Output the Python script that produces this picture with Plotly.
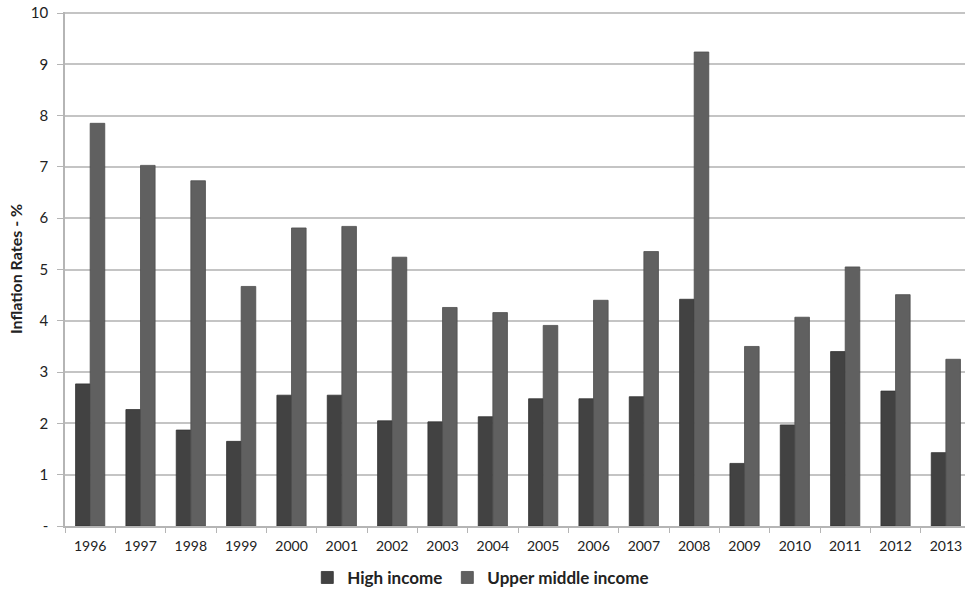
import plotly.graph_objects as go

years = ["1996", "1997", "1998", "1999", "2000", "2001", "2002", "2003", "2004",
         "2005", "2006", "2007", "2008", "2009", "2010", "2011", "2012", "2013"]
high_income = [2.77, 2.27, 1.87, 1.65, 2.55, 2.55, 2.05, 2.03, 2.13,
               2.48, 2.48, 2.52, 4.42, 1.22, 1.97, 3.40, 2.63, 1.43]
upper_middle_income = [7.85, 7.03, 6.73, 4.67, 5.81, 5.84, 5.24, 4.26, 4.16,
                       3.91, 4.40, 5.35, 9.24, 3.50, 4.07, 5.05, 4.51, 3.25]
y_tickvals = [0, 1, 2, 3, 4, 5, 6, 7, 8, 9, 10]
y_ticktext = ["-", "1", "2", "3", "4", "5", "6", "7", "8", "9", "10"]

font_family = "Lato, Open Sans, sans-serif"

fig = go.Figure()
fig.add_trace(go.Bar(x=years, y=high_income, name="<b>High income</b>",
                     marker=dict(color="#424242", line=dict(color="#333333", width=0.8))))
fig.add_trace(go.Bar(x=years, y=upper_middle_income, name="<b>Upper middle income</b>",
                     marker=dict(color="#606060", line=dict(color="#4e4e4e", width=0.8))))

fig.update_layout(
    width=965, height=594,
    margin=dict(l=65, r=0, t=12, b=68, autoexpand=False),
    paper_bgcolor="white", plot_bgcolor="white",
    barmode="group", bargap=0.42, bargroupgap=0,
    font=dict(family=font_family, size=14, color="#222222"),
    legend=dict(orientation="h", x=0.462, xanchor="center", y=-0.066, yanchor="top",
                font=dict(size=17, color="#222222", family=font_family),
                itemwidth=30, traceorder="normal"),
    xaxis=dict(showline=True, linecolor="#b5b5b5", linewidth=1.5,
               range=[-0.5, 17.38], automargin=False,
               ticks="outside", tickson="boundaries", ticklen=5, tickcolor="#b5b5b5",
               ticklabelstandoff=6,
               tickfont=dict(size=14), showgrid=False),
    yaxis=dict(range=[0, 10.02], tickvals=y_tickvals, ticktext=y_ticktext,
               automargin=False,
               showline=True, linecolor="#b5b5b5", linewidth=1.5,
               ticks="outside", ticklen=6, tickcolor="#b5b5b5",
               ticklabelstandoff=6,
               showgrid=True, gridcolor="#c4c4c4", gridwidth=2,
               tickfont=dict(size=15),
               title=dict(text="<b>Inflation Rates - %</b>", font=dict(size=16), standoff=4)),
)

fig.write_html("out.html", config={"displayModeBar": False},
               post_script="document.body.style.margin='0';document.body.style.padding='0';")
